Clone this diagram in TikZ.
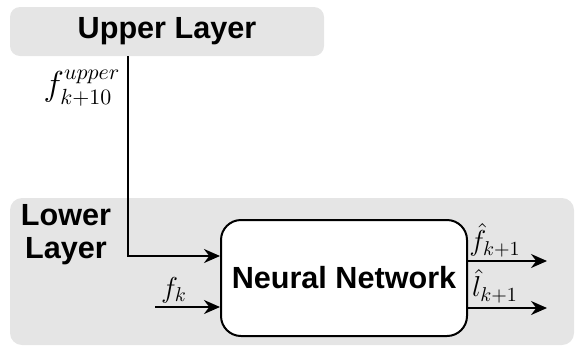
\documentclass[tikz,border=0pt]{standalone}
\usepackage{fontspec}
\usepackage{amsmath}
\setsansfont{Liberation Sans}
\usetikzlibrary{arrows.meta,positioning}

\begin{document}
\begin{tikzpicture}[x=0.5pt,y=-0.5pt,
		layer/.style={fill=gray!20,rounded corners=5pt,font=\sffamily\bfseries\fontsize{15.3}{16.5}\selectfont},
		arr/.style={line width=1pt,-{Stealth[length=8pt,width=7pt]}},
		lbl/.style={inner sep=0.5pt,font=\fontsize{14}{16}\selectfont}]
		\useasboundingbox (0,0) rectangle (576,354);
		% layers
		\node[layer,minimum width=157pt,minimum height=24.5pt] (upper) at (167,31.5){Upper Layer};
		\node[layer,minimum width=282pt,minimum height=73.5pt,rounded corners=6pt] (lower) at (292,271.5){};
		\node[font=\sffamily\bfseries\fontsize{15.3}{16.5}\selectfont,align=center] (lowtxt) at (66,235){Lower\\Layer};
		% network
		\node[draw,fill=white,line width=1pt,rounded corners=10pt,minimum width=123pt,minimum height=58pt,
			font=\sffamily\bfseries\fontsize{15.3}{16.5}\selectfont] (nn) at (344,278){Neural Network};
		% inputs
		\coordinate (tap) at (128,56);
		\coordinate (bend) at (128,256);
		\coordinate (fk) at (155,307);
		\draw[arr] (tap) -- (bend) -- (bend -| nn.west);
		\draw[arr] (fk) -- (fk -| nn.west);
		\node[lbl,font=\fontsize{16}{18}\selectfont] (fup) at (82,88){$f_{k+10}^{upper}$};
		\node[lbl] (fkl) at (174,290){$f_k$};
		% outputs
		\coordinate (fo) at (547,261);
		\coordinate (lo) at (547,308);
		\draw[arr] (fo -| nn.east) -- (fo);
		\draw[arr] (lo -| nn.east) -- (lo);
		\node[lbl] (fhat) at (495,240){$\hat{f}_{k+1}$};
		\node[lbl] (lhat) at (495,286){$\hat{l}_{k+1}$};
	\end{tikzpicture}
\end{document}
